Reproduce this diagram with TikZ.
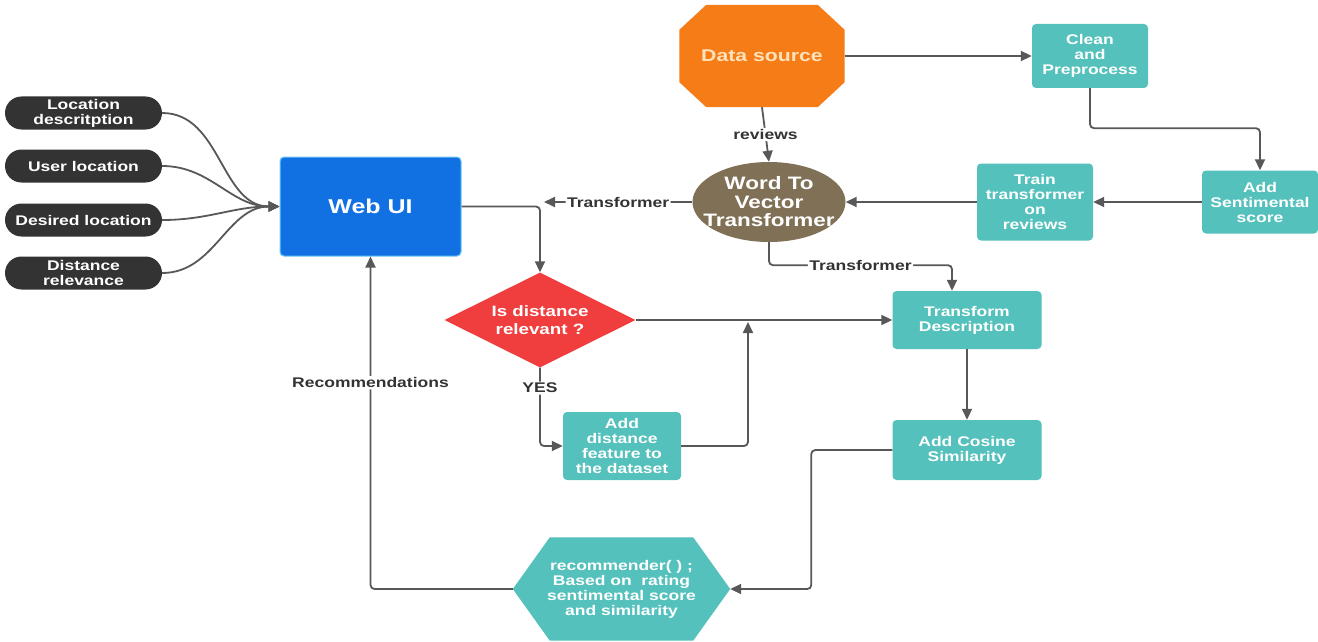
\documentclass[tikz,border=0pt]{standalone}
\usepackage{fontspec}
\setmainfont{Liberation Sans}[FakeStretch=1.25]
\usetikzlibrary{arrows.meta,shapes.geometric,backgrounds}

\definecolor{pillc}{RGB}{51,51,51}
\definecolor{webblue}{RGB}{17,113,227}
\definecolor{webedge}{RGB}{110,200,245}
\definecolor{dsorange}{RGB}{246,124,24}
\definecolor{dstext}{RGB}{255,226,185}
\definecolor{tealc}{RGB}{84,193,188}
\definecolor{w2vbrown}{RGB}{128,112,85}
\definecolor{decred}{RGB}{240,62,62}
\definecolor{wirec}{RGB}{88,88,88}
\definecolor{lblc}{RGB}{51,51,51}

\begin{document}
\begin{tikzpicture}[x=1pt,y=-1pt,
  bold/.style={font=\fontsize{#1}{#1}\selectfont\bfseries},
  pill/.style={fill=pillc, rounded corners=16.5pt, minimum width=157pt,
    minimum height=33pt, inner sep=0pt, text=white, align=center,
    font=\fontsize{14}{15}\selectfont\bfseries},
  tealbox/.style={fill=tealc, rounded corners=4pt, inner sep=0pt,
    text=white, align=center, font=\fontsize{14}{15}\selectfont\bfseries},
  webbox/.style={fill=webblue, draw=webedge, line width=1pt, rounded corners=4pt,
    minimum width=181pt, minimum height=99pt, text=white,
    font=\fontsize{20}{20}\selectfont\bfseries},
  wire/.style={draw=wirec, line width=1.8pt, rounded corners=4pt},
  arr/.style={wire, -{Triangle[length=11pt,width=10pt]}},
  lbl/.style={fill=white, text=lblc, inner sep=1.5pt,
    font=\fontsize{14}{15}\selectfont\bfseries},
]
\useasboundingbox (0,0) rectangle (1318,642);
\begin{scope}[on background layer]
  \fill[white] (0,0) rectangle (1318,642);
\end{scope}

% inputs
\node[pill] (p1) at (83.5,113) {Location\\descritption};
\node[pill] (p2) at (83.5,166) {User location};
\node[pill] (p3) at (83.5,220) {Desired location};
\node[pill] (p4) at (83.5,273) {Distance\\relevance};

\node[webbox] (web) at (370.5,206.5) {Web UI};

% data source (octagon)
\node[minimum width=165pt, minimum height=102pt, inner sep=0pt, text=dstext,
      font=\fontsize{17}{17}\selectfont\bfseries] (ds) at (762,56) {Data source};
\begin{scope}[on background layer]
  \fill[dsorange] ([xshift=27pt]ds.north west) -- ([xshift=-27pt]ds.north east)
    -- ([yshift=-25pt]ds.north east) -- ([yshift=25pt]ds.south east)
    -- ([xshift=-27pt]ds.south east) -- ([xshift=27pt]ds.south west)
    -- ([yshift=25pt]ds.south west) -- ([yshift=-25pt]ds.north west) -- cycle;
\end{scope}

\node[tealbox, minimum width=116pt, minimum height=64pt] (clean) at (1090,56) {Clean\\and\\Preprocess};
\node[tealbox, minimum width=116pt, minimum height=63pt] (sent) at (1260,202) {Add\\Sentimental\\score};
\node[tealbox, minimum width=116pt, minimum height=77pt] (train) at (1035,202) {Train\\transformer\\on\\reviews};

% word to vector (ellipse)
\node[ellipse, fill=w2vbrown, minimum width=153pt, minimum height=80pt, inner sep=0pt] (w2v) at (769,202) {};
\node[text=white, align=center, inner sep=0pt,
      font=\fontsize{18}{18.5}\selectfont\bfseries] (w2vt) at (w2v.center) {Word To\\Vector\\Transformer};

% decision
\node[diamond, fill=decred, aspect=2, minimum width=191pt, minimum height=95pt, inner sep=0pt] (dec) at (540,320) {};
\node[text=white, align=center, inner sep=0pt,
      font=\fontsize{15}{18}\selectfont\bfseries] (dect) at (dec.center) {Is distance\\relevant ?};

\node[tealbox, minimum width=118pt, minimum height=68pt] (adddist) at (622,446) {Add\\distance\\feature to\\the dataset};
\node[tealbox, minimum width=149pt, minimum height=58pt] (tdesc) at (967,320) {Transform\\Description};
\node[tealbox, minimum width=149pt, minimum height=60pt] (cos) at (967,450) {Add Cosine\\Similarity};

% recommender (hexagon)
\node[minimum width=217pt, minimum height=103pt, inner sep=0pt, text=white, align=center,
      font=\fontsize{14}{15}\selectfont\bfseries] (rec) at (621.5,589) {recommender( ) ;\\Based on \ rating\\sentimental score\\and similarity};
\begin{scope}[on background layer]
  \fill[tealc] (rec.west) -- ([xshift=37pt]rec.north west) -- ([xshift=-37pt]rec.north east)
    -- (rec.east) -- ([xshift=-37pt]rec.south east) -- ([xshift=37pt]rec.south west) -- cycle;
\end{scope}

% connectors
\foreach \p in {p1,p2,p3,p4}
  \draw[arr, rounded corners=0pt] (\p.east) to[out=0, in=180] (web.west);

\draw[arr] (ds.east) -- (clean.west);
\draw[arr] (clean.south) -- ++(0,40) -| (sent.north);
\draw[arr] (sent.west) -- (train.east);
\draw[arr] (train.west) -- (w2v.east);
\draw[arr] (ds.south) -- node[lbl]{reviews} (w2v.north);

\coordinate (tj) at (544,202);
\draw[arr] (w2v.west) -- node[lbl]{Transformer} (tj);
\draw[arr] (web.east) -| (dec.north);

\draw[arr] (dec.east) -- (tdesc.west);
\draw[arr] (dec.south) |- node[lbl, pos=0.13]{YES} (adddist.west);
\coordinate (mj) at (748,322);
\draw[arr] (adddist.east) -| (mj);

\draw[arr] (w2v.south) -- ++(0,23) -| node[lbl, pos=0.25]{Transformer} ([xshift=-15pt]tdesc.north);
\draw[arr] (tdesc.south) -- (cos.north);
\draw[arr] (cos.west) -- ++(-81,0) |- (rec.east);
\draw[arr] (rec.west) -| node[lbl, pos=0.81]{Recommendations} (web.south);
\end{tikzpicture}
\end{document}
